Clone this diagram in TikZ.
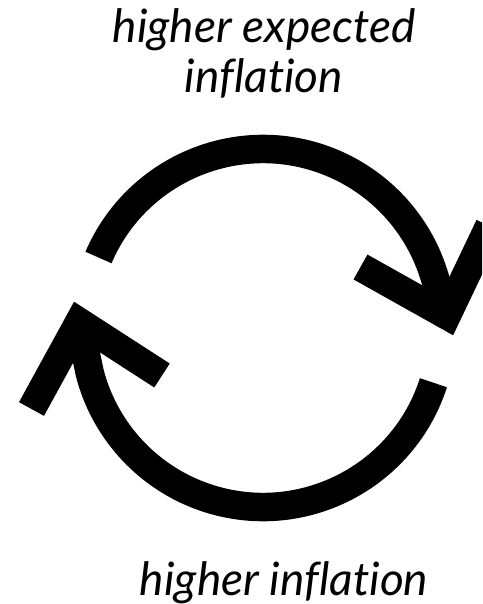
\documentclass[tikz,border=0pt]{standalone}
\usepackage{fontspec}
\setmainfont{Lato}[RawFeature={-liga,-dlig,-calt,-clig}]
\begin{document}
\begin{tikzpicture}[x=1pt,y=1pt,
  loopline/.style={line width=28.5pt,line cap=butt,line join=miter},
  lbl/.style={font=\fontsize{46}{50}\selectfont\itshape,inner sep=0pt,align=center}]
\useasboundingbox (0,0) rectangle (482,-604);
\clip (0,0) rectangle (482,-604);
\coordinate (c) at (263,-328);
% right arrow head
\coordinate (vr) at (446.8,-315.4);
\coordinate (ar1) at (360.5,-267.0);
\coordinate (ar2) at (489.4,-226.0);
% left arrow head
\coordinate (vl) at (79.2,-322);
\coordinate (al1) at (162,-375.5);
\coordinate (al2) at (31.5,-409);
% top arc
\draw[loopline] ([shift={(156.8:179)}]c) arc[start angle=156.8,end angle=18,radius=179] -- (vr);
\draw[loopline] (ar1) -- (vr) -- (ar2);
% bottom arc
\draw[loopline] ([shift={(-17.8:179)}]c) arc[start angle=-17.8,end angle=-165.5,radius=179] -- (vl);
\draw[loopline] (al1) -- (vl) -- (al2);
% labels
\node[lbl,anchor=base] (top) at (264,-93) {higher expected\\inflation};
\node[lbl,anchor=base] (bottom) at (284,-595) {higher inflation};
\end{tikzpicture}
\end{document}
